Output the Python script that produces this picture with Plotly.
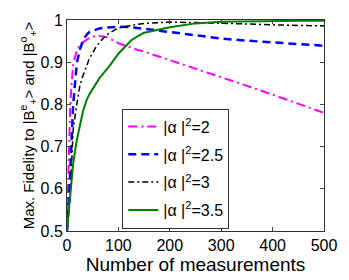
import plotly.graph_objects as go

measurements = [0, 3, 6, 9, 12, 19, 25, 31, 38, 44, 56, 63, 75, 82, 100, 125, 138, 150, 200, 250, 300, 350, 400, 450, 500]
fid_2 = [0.5, 0.66, 0.79, 0.85, 0.895, 0.928, 0.94, 0.947, 0.953, 0.958, 0.962, 0.962, 0.96, 0.957, 0.945, 0.934, 0.929, 0.925, 0.905, 0.885, 0.865, 0.844, 0.823, 0.802, 0.78]
fid_25 = [0.5, 0.56, 0.63, 0.72, 0.80, 0.897, 0.93, 0.951, 0.965, 0.972, 0.977, 0.98, 0.982, 0.983, 0.984, 0.983, 0.981, 0.979, 0.97, 0.963, 0.956, 0.951, 0.947, 0.943, 0.939]
fid_3 = [0.5, 0.54, 0.578, 0.66, 0.74, 0.80, 0.844, 0.868, 0.89, 0.91, 0.935, 0.947, 0.962, 0.969, 0.981, 0.988, 0.99, 0.992, 0.995, 0.994, 0.992, 0.99, 0.989, 0.987, 0.986]
fid_35 = [0.5, 0.54, 0.59, 0.63, 0.66, 0.715, 0.75, 0.783, 0.81, 0.825, 0.848, 0.862, 0.88, 0.89, 0.92, 0.952, 0.962, 0.97, 0.983, 0.992, 0.996, 0.997, 0.998, 0.998, 0.998]

names = ["|α |<sup>2</sup>=2", "|α |<sup>2</sup>=2.5", "|α |<sup>2</sup>=3", "|α |<sup>2</sup>=3.5"]
x_ticks = [0, 100, 200, 300, 400, 500]
y_ticks = [0.5, 0.6, 0.7, 0.8, 0.9, 1.0]
y_labels = ["0.5", "0.6", "0.7", "0.8", "0.9", "1"]

series = [fid_2, fid_25, fid_3, fid_35]
styles = [
    dict(color="#ff00ff", dash="9px,4px,2px,4px", width=2),
    dict(color="#0000ff", dash="8px,5px", width=2.5),
    dict(color="#000000", dash="6px,3px,2px,3px", width=1.5),
    dict(color="#008000", dash="solid", width=2),
]

fig = go.Figure()
for i, (name, ys, st) in enumerate(zip(names, series, styles)):
    fig.add_trace(go.Scatter(x=measurements, y=ys, mode="lines", name=name, line=st,
                             legendgroup=f"g{i}"))

fam = "Liberation Sans, Arial, Helvetica, sans-serif"
fig.update_layout(
    width=349, height=280,
    margin=dict(l=67, r=17, t=15, b=46),
    paper_bgcolor="white", plot_bgcolor="white",
    font=dict(family=fam, size=16, color="black"),
    legend=dict(x=0.215, y=0.58, xanchor="left", yanchor="top",
                bordercolor="#333333", borderwidth=1, bgcolor="white",
                font=dict(family=fam, size=16),
                traceorder="grouped", tracegroupgap=4),
)
fig.update_xaxes(range=[0, 500], tickvals=x_ticks, ticks="inside", ticklen=4,
                 showline=True, linecolor="#333333", linewidth=1, mirror="ticks",
                 showgrid=False, zeroline=False,
                 title=dict(text="Number of measurements", standoff=0))
fig.update_yaxes(range=[0.5, 1.0], tickvals=y_ticks, ticktext=y_labels, ticks="inside", ticklen=4,
                 showline=True, linecolor="#333333", linewidth=1, mirror="ticks",
                 showgrid=False, zeroline=False,
                 title=dict(text="Max. Fidelity to |B<sup>e</sup><sub>+</sub>> and |B<sup>o</sup><sub>+</sub>>",
                            standoff=2, font=dict(size=15)))

fig.write_html("out.html", config={"displayModeBar": False},
               post_script="document.body.style.margin='0';")
